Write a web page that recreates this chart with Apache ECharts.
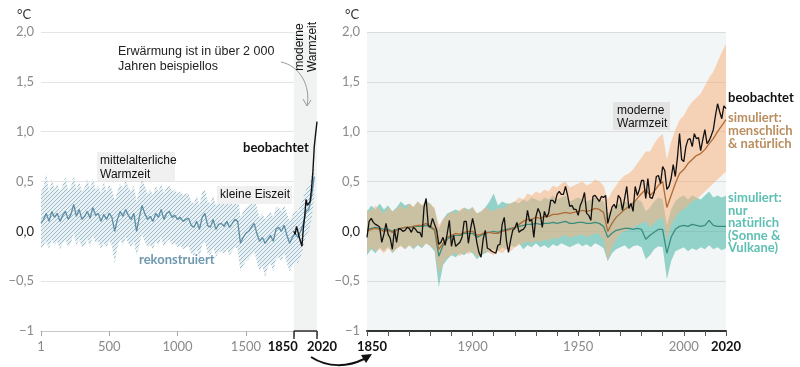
<!DOCTYPE html>
<html><head><meta charset="utf-8">
<script src="https://cdn.jsdelivr.net/npm/echarts@6/dist/echarts.min.js"></script>
<style>html,body{margin:0;padding:0;background:#fff}#c{width:800px;height:367px}</style>
</head><body><div id="c"></div>
<script>
// ---------- DATA ----------
// Left panel: reconstruction (year 1, then every 20 years to 2000)
const reconYears = [1].concat(Array.from({length: 100}, (_, i) => (i + 1) * 20));
const reconMedian = [
 0.08, 0.12, 0.18, 0.10, 0.20, 0.14, 0.18, 0.10, 0.16, 0.20,
 0.12, 0.17, 0.27, 0.15, 0.22, 0.12, 0.15, 0.20, 0.13, 0.24,
 0.16, 0.18, 0.10, 0.17, 0.12, 0.18, 0.14, 0.00, 0.12, 0.20,
 0.15, 0.22, 0.16, 0.12, 0.18, 0.00, 0.14, 0.26, 0.18, 0.12,
 0.15, 0.10, 0.18, 0.14, 0.22, 0.12, 0.18, 0.20, 0.14, 0.16,
 0.12, 0.14, 0.10, 0.12, 0.13, 0.06, 0.04, 0.10, 0.02, 0.14,
 0.18, 0.06, 0.04, 0.12, 0.02, 0.07, 0.08, 0.05, 0.10, 0.04,
 0.08, 0.12, 0.10, -0.12, -0.06, -0.02, 0.00, 0.04, 0.08, -0.02,
 -0.10, -0.06, -0.12, -0.08, -0.04, -0.10, 0.02, 0.04, 0.00, 0.06,
 -0.04, -0.12, -0.06, -0.02, -0.06, 0.00, 0.08, 0.20, 0.22, 0.35,
 0.55];
const reconHi = [
 0.40, 0.45, 0.58, 0.38, 0.52, 0.42, 0.48, 0.40, 0.46, 0.55,
 0.40, 0.45, 0.56, 0.42, 0.50, 0.40, 0.44, 0.52, 0.42, 0.53,
 0.42, 0.46, 0.38, 0.50, 0.40, 0.47, 0.42, 0.30, 0.40, 0.48,
 0.42, 0.52, 0.44, 0.40, 0.46, 0.30, 0.42, 0.52, 0.46, 0.38,
 0.42, 0.36, 0.46, 0.40, 0.48, 0.38, 0.44, 0.46, 0.40, 0.42,
 0.38, 0.40, 0.36, 0.38, 0.38, 0.30, 0.28, 0.36, 0.26, 0.40,
 0.42, 0.30, 0.28, 0.36, 0.26, 0.32, 0.34, 0.30, 0.36, 0.30,
 0.34, 0.38, 0.36, 0.14, 0.20, 0.24, 0.26, 0.28, 0.34, 0.24,
 0.14, 0.18, 0.12, 0.16, 0.20, 0.14, 0.24, 0.24, 0.20, 0.26,
 0.18, 0.10, 0.16, 0.22, 0.20, 0.26, 0.34, 0.42, 0.45, 0.55,
 0.65];
const reconLo = [
 -0.18, -0.14, -0.10, -0.18, -0.08, -0.14, -0.10, -0.18, -0.12, -0.08,
 -0.16, -0.12, -0.02, -0.14, -0.08, -0.16, -0.14, -0.08, -0.16, -0.04,
 -0.12, -0.10, -0.18, -0.12, -0.16, -0.10, -0.14, -0.32, -0.16, -0.08,
 -0.14, -0.06, -0.12, -0.16, -0.10, -0.24, -0.14, -0.02, -0.10, -0.16,
 -0.14, -0.18, -0.10, -0.14, -0.06, -0.16, -0.10, -0.08, -0.14, -0.12,
 -0.16, -0.14, -0.18, -0.16, -0.15, -0.22, -0.24, -0.18, -0.26, -0.14,
 -0.10, -0.22, -0.24, -0.16, -0.26, -0.21, -0.20, -0.23, -0.18, -0.24,
 -0.20, -0.16, -0.18, -0.40, -0.34, -0.30, -0.28, -0.24, -0.20, -0.30,
 -0.40, -0.34, -0.46, -0.36, -0.32, -0.40, -0.28, -0.26, -0.30, -0.22,
 -0.32, -0.40, -0.34, -0.30, -0.32, -0.26, -0.16, -0.04, 0.00, 0.12,
 0.35];
// Left panel: observed, coarse (decadal) series
const obsCoarseYears = [1850,1860,1870,1880,1890,1900,1910,1920,1930,1940,1950,1960,1970,1980,1990,2000,2010,2020];
const obsCoarse = [0.00,-0.03,0.05,0.00,-0.06,-0.04,-0.15,0.03,0.15,0.32,0.26,0.27,0.30,0.43,0.60,0.85,0.98,1.10];
const modernPeriod = [1850, 2020];

// Right panel: observed annual values 1850..2020
const obsYears = Array.from({length: 171}, (_, i) => 1850 + i);
const obsValues = [
 -0.06, 0.10, 0.13, 0.09, 0.07, 0.06, 0.04, -0.11, -0.03, 0.08,
 -0.03, -0.07, -0.18, 0.02, -0.11, 0.03, 0.02, 0.00, 0.01, 0.04,
 0.03, -0.01, 0.04, 0.02, -0.01, -0.01, -0.06, 0.24, 0.33, 0.06,
 0.04, 0.13, 0.07, 0.01, -0.13, -0.11, -0.06, -0.14, -0.02, 0.11,
 -0.15, -0.04, -0.15, -0.13, -0.11, -0.06, 0.10, 0.10, -0.12, 0.02,
 0.13, 0.03, -0.11, -0.21, -0.26, -0.08, 0.01, -0.17, -0.18, -0.20,
 -0.21, -0.22, -0.14, -0.13, 0.07, 0.14, -0.09, -0.21, -0.09, 0.01,
 0.03, 0.09, -0.01, 0.01, 0.02, 0.05, 0.21, 0.10, 0.12, -0.06,
 0.15, 0.23, 0.18, 0.04, 0.20, 0.14, 0.18, 0.31, 0.31, 0.28,
 0.37, 0.40, 0.37, 0.37, 0.45, 0.36, 0.25, 0.26, 0.22, 0.22,
 0.16, 0.26, 0.31, 0.39, 0.18, 0.16, 0.11, 0.35, 0.36, 0.33,
 0.30, 0.35, 0.34, 0.36, 0.08, 0.16, 0.24, 0.27, 0.23, 0.36,
 0.33, 0.21, 0.33, 0.45, 0.23, 0.28, 0.20, 0.45, 0.36, 0.42,
 0.51, 0.51, 0.33, 0.53, 0.34, 0.33, 0.39, 0.55, 0.56, 0.48,
 0.65, 0.61, 0.42, 0.45, 0.53, 0.67, 0.55, 0.74, 0.98, 0.72,
 0.70, 0.85, 0.92, 0.93, 0.85, 0.98, 0.93, 0.94, 0.81, 0.92,
 1.02, 0.88, 0.91, 0.96, 1.02, 1.16, 1.28, 1.20, 1.13, 1.26,
 1.23];

// Right panel: simulations, every 2 years 1850..2020
const simYears = Array.from({length: 86}, (_, i) => 1850 + 2 * i);
const humNatMean = [
 0.00, 0.02, 0.03, 0.02, 0.00, 0.01, -0.01, 0.01, 0.03, 0.04,
 0.04, 0.05, 0.06, 0.06, 0.08, 0.05, 0.02, -0.18, -0.12, -0.06,
 -0.04, -0.02, -0.03, -0.01, 0.00, 0.00, -0.04, -0.03, -0.01, -0.01,
 -0.02, -0.02, 0.00, 0.01, 0.02, 0.04, 0.07, 0.10, 0.12, 0.12,
 0.14, 0.13, 0.15, 0.15, 0.17, 0.17, 0.18, 0.19, 0.18, 0.19,
 0.20, 0.21, 0.20, 0.21, 0.23, 0.22, 0.19, 0.00, 0.08, 0.14,
 0.18, 0.22, 0.25, 0.28, 0.33, 0.38, 0.42, 0.36, 0.40, 0.46,
 0.50, 0.24, 0.36, 0.48, 0.58, 0.62, 0.68, 0.72, 0.76, 0.78,
 0.82, 0.88, 0.93, 1.00, 1.06, 1.12];
const humNatHi = [
 0.22, 0.20, 0.26, 0.22, 0.18, 0.24, 0.20, 0.23, 0.26, 0.22,
 0.28, 0.25, 0.30, 0.26, 0.32, 0.27, 0.24, 0.06, 0.12, 0.16,
 0.20, 0.18, 0.22, 0.24, 0.20, 0.25, 0.18, 0.20, 0.24, 0.22,
 0.20, 0.24, 0.22, 0.26, 0.28, 0.30, 0.34, 0.32, 0.38, 0.36,
 0.40, 0.38, 0.42, 0.40, 0.46, 0.44, 0.48, 0.50, 0.44, 0.46,
 0.48, 0.50, 0.46, 0.48, 0.52, 0.50, 0.46, 0.32, 0.40, 0.46,
 0.52, 0.56, 0.58, 0.62, 0.68, 0.74, 0.80, 0.80, 0.88, 0.94,
 0.98, 0.72, 0.90, 1.02, 1.12, 1.16, 1.24, 1.30, 1.34, 1.38,
 1.46, 1.54, 1.60, 1.70, 1.80, 1.88];
const humNatLo = [
 -0.22, -0.16, -0.20, -0.18, -0.22, -0.17, -0.21, -0.18, -0.15, -0.18,
 -0.14, -0.17, -0.13, -0.16, -0.12, -0.15, -0.18, -0.42, -0.32, -0.26,
 -0.24, -0.22, -0.25, -0.21, -0.23, -0.20, -0.26, -0.24, -0.20, -0.22,
 -0.24, -0.20, -0.22, -0.18, -0.20, -0.16, -0.14, -0.12, -0.10, -0.12,
 -0.09, -0.11, -0.08, -0.10, -0.06, -0.08, -0.05, -0.04, -0.07, -0.05,
 -0.04, -0.03, -0.06, -0.04, -0.02, -0.03, -0.08, -0.30, -0.16, -0.08,
 -0.02, 0.00, 0.02, 0.04, 0.06, 0.08, 0.10, 0.04, 0.08, 0.12,
 0.14, -0.08, 0.06, 0.14, 0.20, 0.22, 0.26, 0.30, 0.32, 0.36,
 0.40, 0.44, 0.48, 0.52, 0.56, 0.60];
const natMean = [
 0.02, 0.03, 0.04, 0.03, 0.02, 0.02, 0.00, 0.02, 0.03, 0.04,
 0.04, 0.05, 0.05, 0.05, 0.06, 0.04, 0.01, -0.25, -0.14, -0.08,
 -0.05, -0.04, -0.04, -0.02, -0.02, -0.02, -0.06, -0.04, -0.02, -0.01,
 0.00, -0.01, 0.01, 0.02, 0.03, 0.04, 0.05, 0.06, 0.07, 0.07,
 0.08, 0.07, 0.08, 0.08, 0.09, 0.08, 0.09, 0.10, 0.08, 0.08,
 0.09, 0.09, 0.08, 0.08, 0.09, 0.08, 0.05, -0.06, -0.02, 0.01,
 0.02, 0.03, 0.03, 0.02, 0.03, 0.02, -0.08, -0.04, -0.01, 0.02,
 0.02, -0.22, -0.06, 0.02, 0.05, 0.06, 0.05, 0.07, 0.06, 0.05,
 0.06, 0.11, 0.06, 0.05, 0.05, 0.05];
const natHi = [
 0.20, 0.26, 0.22, 0.28, 0.22, 0.26, 0.20, 0.24, 0.30, 0.26,
 0.28, 0.24, 0.30, 0.26, 0.30, 0.28, 0.22, 0.02, 0.12, 0.18,
 0.20, 0.22, 0.20, 0.24, 0.22, 0.24, 0.18, 0.20, 0.24, 0.30,
 0.38, 0.26, 0.30, 0.28, 0.28, 0.30, 0.28, 0.32, 0.30, 0.34,
 0.32, 0.30, 0.34, 0.32, 0.36, 0.32, 0.34, 0.36, 0.30, 0.32,
 0.34, 0.32, 0.30, 0.32, 0.34, 0.32, 0.30, 0.18, 0.22, 0.26,
 0.28, 0.30, 0.28, 0.30, 0.32, 0.30, 0.20, 0.24, 0.30, 0.34,
 0.32, 0.06, 0.22, 0.30, 0.34, 0.36, 0.32, 0.36, 0.34, 0.32,
 0.36, 0.40, 0.34, 0.36, 0.34, 0.36];
const natLo = [
 -0.24, -0.18, -0.22, -0.16, -0.20, -0.15, -0.22, -0.17, -0.14, -0.18,
 -0.14, -0.18, -0.14, -0.17, -0.12, -0.15, -0.20, -0.56, -0.34, -0.28,
 -0.24, -0.26, -0.22, -0.24, -0.20, -0.22, -0.28, -0.24, -0.22, -0.20,
 -0.18, -0.20, -0.16, -0.18, -0.14, -0.16, -0.12, -0.18, -0.14, -0.16,
 -0.12, -0.16, -0.14, -0.17, -0.13, -0.15, -0.12, -0.14, -0.16, -0.14,
 -0.12, -0.15, -0.13, -0.16, -0.12, -0.14, -0.17, -0.30, -0.22, -0.18,
 -0.16, -0.14, -0.18, -0.15, -0.14, -0.16, -0.28, -0.24, -0.18, -0.15,
 -0.16, -0.48, -0.30, -0.20, -0.18, -0.16, -0.20, -0.17, -0.19, -0.16,
 -0.18, -0.14, -0.18, -0.16, -0.19, -0.17];

const leftXTicks = [1, 500, 1000, 1500, 1850, 2020];
const rightXLabels = [1850, 1900, 1950, 2000, 2020];

// ---------- HELPERS ----------
const zip2 = (xs, ys) => xs.map((x, i) => [x, ys[i]]);
const zip3 = (xs, lo, hi) => xs.map((x, i) => [x, lo[i], hi[i]]);

const pc = document.createElement('canvas');
pc.width = 4; pc.height = 4;
const g = pc.getContext('2d');
g.fillStyle = '#eaf1f4'; g.fillRect(0, 0, 4, 4);
g.strokeStyle = '#9dbccb'; g.lineWidth = 1;
g.beginPath();
g.moveTo(0, 4); g.lineTo(4, 0);
g.moveTo(-1, 1); g.lineTo(1, -1);
g.moveTo(3, 5); g.lineTo(5, 3);
g.stroke();
const hatch = {image: pc, repeat: 'repeat'};

function bandRender(fill) {
  return function (params, api) {
    if (params.dataIndexInside !== 0) return null;
    const n = params.dataInsideLength;
    const top = [], bot = [];
    for (let i = 0; i < n; i++) {
      const x = api.value(0, i);
      top.push(api.coord([x, api.value(2, i)]));
      bot.push(api.coord([x, api.value(1, i)]));
    }
    return {type: 'polygon', shape: {points: top.concat(bot.reverse())}, style: {fill: fill, stroke: null}};
  };
}

const fmtY = v => v === 0 ? '{z|0,0}' : (v === -1 ? '−1' : (v < 0 ? '−' : '') + Math.abs(v).toFixed(1).replace('.', ','));
const yLabel = {color: '#8a8a8a', fontFamily: 'Lato', fontSize: 13, margin: 7, formatter: fmtY, rich: {z: {color: '#222', fontFamily: 'Lato', fontSize: 13}}};
const TXT = '"Liberation Sans", Arial, sans-serif';

const chart = echarts.init(document.getElementById('c'), null, {renderer: 'canvas'});
chart.setOption({
  animation: false,
  backgroundColor: '#fff',
  grid: [
    {left: 41, right: 483, top: 32, bottom: 36},
    {left: 367, right: 74, top: 32, bottom: 36, show: true, backgroundColor: '#f3f6f6', borderWidth: 0}
  ],
  xAxis: [
    {type: 'value', gridIndex: 0, min: 1, max: 2020, splitLine: {show: false},
     axisLine: {onZero: false, lineStyle: {color: '#c8c8c8', width: 1}},
     axisTick: {customValues: leftXTicks, length: 5, lineStyle: {color: '#aaa'}},
     axisLabel: {customValues: leftXTicks, color: '#8a8a8a', fontFamily: 'Lato', fontSize: 13, margin: 9,
       formatter: v => v === 1850 ? '{l|1850}' : v === 2020 ? '{r|2020}' : String(v),
       rich: {l: {fontWeight: 'bold', color: '#111', fontFamily: 'Lato', fontSize: 13, padding: [0, 22, 0, 0]},
              r: {fontWeight: 'bold', color: '#111', fontFamily: 'Lato', fontSize: 13, padding: [0, 0, 0, 10]}}}},
    {type: 'value', gridIndex: 0, min: 1, max: 2020, position: 'bottom', splitLine: {show: false},
     axisLine: {show: false, onZero: false}, axisLabel: {show: false},
     axisTick: {customValues: modernPeriod, length: 8, lineStyle: {color: '#333', width: 1.5}}},
    {type: 'value', gridIndex: 1, min: 1850, max: 2020, interval: 10, splitLine: {show: false},
     axisLine: {onZero: false, lineStyle: {color: '#333', width: 2}},
     axisTick: {length: 5, lineStyle: {color: '#555', width: 1}},
     axisLabel: {interval: 0, showMinLabel: true, showMaxLabel: true, color: '#8a8a8a', fontFamily: 'Lato', fontSize: 13, margin: 9,
       formatter: v => v === 1850 ? '{l|1850}' : v === 2020 ? '{r|2020}' : (rightXLabels.includes(v) ? String(v) : ''),
       rich: {l: {fontWeight: 'bold', color: '#111', fontFamily: 'Lato', fontSize: 13, padding: [0, 0, 0, 10]},
              r: {fontWeight: 'bold', color: '#111', fontFamily: 'Lato', fontSize: 13}}}}
  ],
  yAxis: [
    {type: 'value', gridIndex: 0, min: -1, max: 2, interval: 0.5, axisLine: {show: false}, axisTick: {show: false},
     splitLine: {lineStyle: {color: '#e4e4e4'}}, axisLabel: yLabel},
    {type: 'value', gridIndex: 1, min: -1, max: 2, interval: 0.5, axisLine: {show: false}, axisTick: {show: false},
     splitLine: {lineStyle: {color: '#dcdcdc'}}, axisLabel: yLabel}
  ],
  series: [
    // ---- left panel ----
    {type: 'custom', name: 'rekonstruiert (Bereich)', xAxisIndex: 0, yAxisIndex: 0, z: 2, silent: true,
     data: zip3(reconYears, reconLo, reconHi), encode: {x: 0, y: [1, 2]}, renderItem: bandRender(hatch),
     markArea: {silent: true, z: 1, itemStyle: {color: '#f1f3f3'},
       data: [[{xAxis: modernPeriod[0]}, {xAxis: modernPeriod[1]}]]}},
    {type: 'line', name: 'rekonstruiert', xAxisIndex: 0, yAxisIndex: 0, z: 3, symbol: 'none', silent: true,
     data: zip2(reconYears, reconMedian), lineStyle: {color: '#5b8ca4', width: 1.3}},
    {type: 'line', name: 'beobachtet (links)', xAxisIndex: 0, yAxisIndex: 0, z: 4, symbol: 'none', silent: true,
     data: zip2(obsCoarseYears, obsCoarse), lineStyle: {color: '#111', width: 1.4}},
    {type: 'line', name: 'Zeitraum', xAxisIndex: 0, yAxisIndex: 0, z: 5, symbol: 'none', silent: true, clip: false,
     data: modernPeriod.map(y => [y, -1]), lineStyle: {color: '#333', width: 1.5}},
    // ---- right panel ----
    {type: 'custom', name: 'nur natürlich (Bereich)', xAxisIndex: 2, yAxisIndex: 1, z: 2, silent: true,
     data: zip3(simYears, natLo, natHi), encode: {x: 0, y: [1, 2]}, renderItem: bandRender('rgba(78,184,168,0.58)')},
    {type: 'custom', name: 'menschlich & natürlich (Bereich)', xAxisIndex: 2, yAxisIndex: 1, z: 2, silent: true,
     data: zip3(simYears, humNatLo, humNatHi), encode: {x: 0, y: [1, 2]}, renderItem: bandRender('rgba(246,178,130,0.55)')},
    {type: 'line', name: 'nur natürlich', xAxisIndex: 2, yAxisIndex: 1, z: 3, symbol: 'none', silent: true,
     data: zip2(simYears, natMean), lineStyle: {color: '#3c8c7e', width: 1.3}},
    {type: 'line', name: 'menschlich & natürlich', xAxisIndex: 2, yAxisIndex: 1, z: 3, symbol: 'none', silent: true,
     data: zip2(simYears, humNatMean), lineStyle: {color: '#b06b35', width: 1.3}},
    {type: 'line', name: 'beobachtet', xAxisIndex: 2, yAxisIndex: 1, z: 4, symbol: 'none', silent: true,
     data: zip2(obsYears, obsValues), lineStyle: {color: '#111', width: 1.3}}
  ],
  graphic: [
    {type: 'text', x: 17, y: 8, z: 100, style: {text: '°C', font: '13px Lato', fill: '#333'}},
    {type: 'text', x: 345, y: 8, z: 100, style: {text: '°C', font: '13px Lato', fill: '#333'}},
    {type: 'text', x: 118, y: 44, z: 100, style: {text: 'Erwärmung ist in über 2 000\nJahren beispiellos', font: '12.5px ' + TXT, fill: '#222', lineHeight: 15}},
    {type: 'text', x: 306, y: 47, rotation: Math.PI / 2, z: 100,
     style: {text: 'moderne\nWarmzeit', font: '12px ' + TXT, fill: '#111', align: 'center', verticalAlign: 'middle', lineHeight: 13}},
    {type: 'bezierCurve', z: 100, shape: {x1: 281, y1: 62, cpx1: 300, cpy1: 66, cpx2: 311, cpy2: 86, x2: 307, y2: 106},
     style: {stroke: '#999', lineWidth: 1, fill: null}},
    {type: 'polyline', z: 100, shape: {points: [[303, 99], [307, 106], [311, 100]]}, style: {stroke: '#999', lineWidth: 1, fill: null}},
    {type: 'rect', z: 99, shape: {x: 97, y: 152, width: 78, height: 29}, style: {fill: '#f0f0f0'}},
    {type: 'text', x: 100, y: 154, z: 100, style: {text: 'mittelalterliche\nWarmzeit', font: '12px ' + TXT, fill: '#111', lineHeight: 14}},
    {type: 'rect', z: 99, shape: {x: 217, y: 186, width: 75, height: 18}, style: {fill: '#f0f0f0'}},
    {type: 'text', x: 220, y: 189, z: 100, style: {text: 'kleine Eiszeit', font: '12px ' + TXT, fill: '#111'}},
    {type: 'text', x: 243, y: 141, z: 100, style: {text: 'beobachtet', font: 'bold 13px Lato', fill: '#111'}},
    {type: 'text', x: 139, y: 253, z: 100, style: {text: 'rekonstruiert', font: 'bold 13px Lato', fill: '#6e98ad'}},
    {type: 'rect', z: 99, shape: {x: 613, y: 102, width: 57, height: 28}, style: {fill: '#e3e3e3'}},
    {type: 'text', x: 617, y: 104, z: 100, style: {text: 'moderne\nWarmzeit', font: '12px ' + TXT, fill: '#111', lineHeight: 13}},
    {type: 'text', x: 728, y: 91, z: 100, style: {text: 'beobachtet', font: 'bold 13px Lato', fill: '#111'}},
    {type: 'text', x: 728, y: 111, z: 100, style: {text: 'simuliert:\nmenschlich\n& natürlich', font: 'bold 13px Lato', fill: '#b98e5e', lineHeight: 13}},
    {type: 'text', x: 728, y: 192, z: 100, style: {text: 'simuliert:\nnur\nnatürlich\n(Sonne &\nVulkane)', font: 'bold 13px Lato', fill: '#5ec0b2', lineHeight: 12.5}},
    {type: 'bezierCurve', z: 100, shape: {x1: 311, y1: 357, cpx1: 328, cpy1: 368, cpx2: 348, cpy2: 367, x2: 364, y2: 359},
     style: {stroke: '#111', lineWidth: 2, fill: null}},
    {type: 'polygon', z: 100, shape: {points: [[372, 354], [361, 355], [366, 363]]}, style: {fill: '#111'}}
  ]
});
</script></body></html>
